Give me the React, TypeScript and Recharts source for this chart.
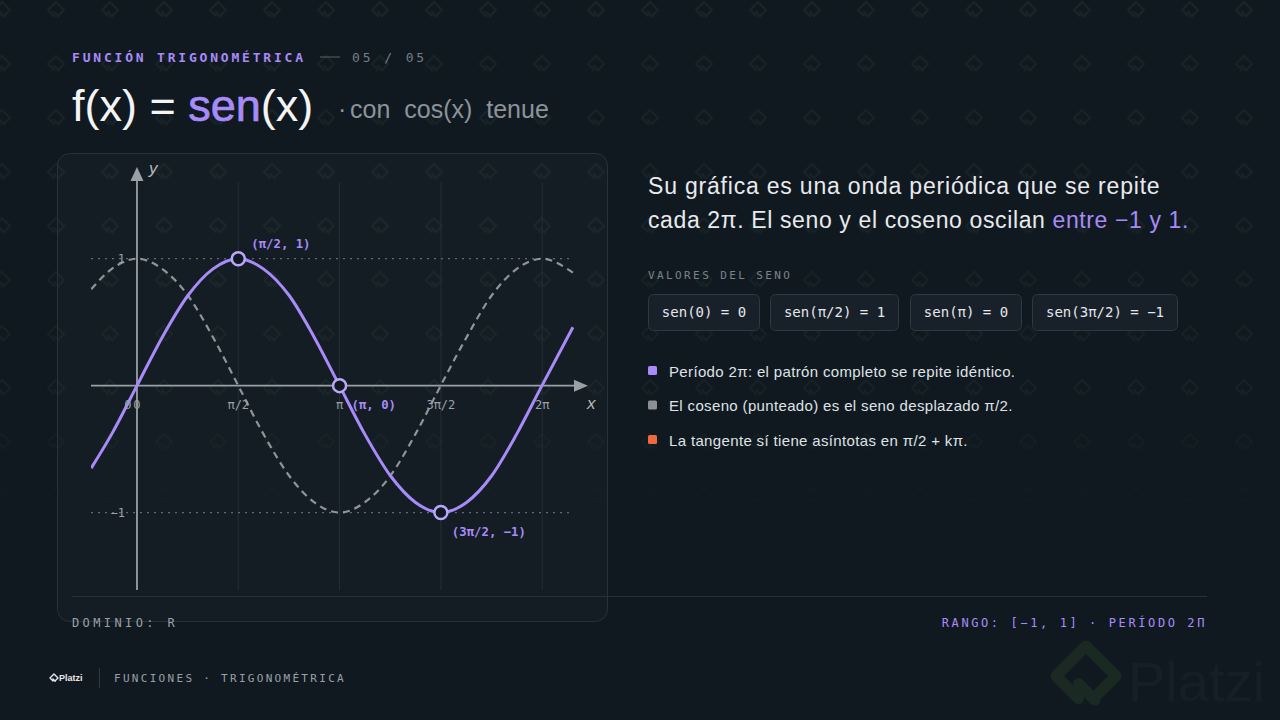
import React from 'react';
import { LineChart, Line, XAxis, YAxis, ReferenceLine, ReferenceDot } from 'recharts';

// x en radianes
const xValues = [-0.71, -0.39, 0, 0.39, 0.79, 1.18, 1.57, 1.96, 2.36, 2.75, 3.14, 3.53, 3.93, 4.32, 4.71, 5.11, 5.5, 5.89, 6.28, 6.76];
const senValues = [-0.65, -0.38, 0, 0.38, 0.71, 0.92, 1, 0.92, 0.71, 0.38, 0, -0.38, -0.71, -0.92, -1, -0.92, -0.71, -0.38, 0, 0.46];
const cosValues = [0.76, 0.92, 1, 0.92, 0.71, 0.38, 0, -0.38, -0.71, -0.92, -1, -0.92, -0.71, -0.38, 0, 0.38, 0.71, 0.92, 1, 0.89];

const xTicks = [0, 1.5708, 3.1416, 4.7124, 6.2832];
const xTickLabels = ['0', 'π/2', 'π', '3π/2', '2π'];
const yTicks = [1, -1];
const yTickLabels = ['1', '−1'];

const keyX = [1.5708, 3.1416, 4.7124];
const keyY = [1, 0, -1];
const keyLabels = ['(π/2, 1)', '(π, 0)', '(3π/2, −1)'];

const chipLabels = ['sen(0) = 0', 'sen(π/2) = 1', 'sen(π) = 0', 'sen(3π/2) = −1'];
const bulletLabels = [
  'Período 2π: el patrón completo se repite idéntico.',
  'El coseno (punteado) es el seno desplazado π/2.',
  'La tangente sí tiene asíntotas en π/2 + kπ.',
];

const PURPLE = '#a78bfa';
const BG = '#111920';
const MONO = '"DejaVu Sans Mono", monospace';
const SANS = '"Liberation Sans", Arial, sans-serif';

const data = xValues.map((x, i) => ({ x, sen: senValues[i], cos: cosValues[i] }));

const X_DOMAIN: [number, number] = [-0.713, 6.87];
const Y_DOMAIN: [number, number] = [-1.61, 1.62];

const labelOffsets = [
  { dx: 13, dy: -11 },
  { dx: 12, dy: 23 },
  { dx: 11, dy: 23 },
];

const chipX = [648, 770, 910, 1032];
const chipW = [111, 128, 111, 145];
const bulletColors = [PURPLE, '#8b9096', '#f0693e'];

const Icon = ({ x, y, s, stroke, w }: { x: number; y: number; s: number; stroke: string; w: number }) => (
  <path
    d={`M ${x} ${y - s} L ${x + s} ${y} L ${x + s * 0.25} ${y + s * 0.75} M ${x - s * 0.25} ${y + s * 0.75} L ${x - s} ${y} L ${x} ${y - s} M ${x - s * 0.25} ${y + s * 0.25} L ${x + s * 0.3} ${y + s * 0.8}`}
    fill="none"
    stroke={stroke}
    strokeWidth={w}
    strokeLinejoin="round"
    strokeLinecap="round"
  />
);

const Backdrop = () => (
  <svg width={1280} height={720} style={{ position: 'absolute', left: 0, top: 0 }}>
    <defs>
      <pattern id="bgp" width={54} height={54} patternUnits="userSpaceOnUse" x={-25} y={-17}>
        <Icon x={27} y={27} s={8} stroke="#172527" w={2.4} />
      </pattern>
      <linearGradient id="fade" x1="0" y1="0" x2="0" y2="1">
        <stop offset="0" stopColor="#fff" stopOpacity={1} />
        <stop offset="0.55" stopColor="#fff" stopOpacity={0.7} />
        <stop offset="0.72" stopColor="#fff" stopOpacity={0} />
      </linearGradient>
      <mask id="fm">
        <rect width={1280} height={720} fill="url(#fade)" />
      </mask>
    </defs>
    <rect width={1280} height={720} fill={BG} />
    <rect width={1280} height={720} fill="url(#bgp)" mask="url(#fm)" />

    {/* cabecera */}
    <text x={72} y={62} fontFamily={MONO} fontSize={13} letterSpacing={2.8} fill={PURPLE} fontWeight="bold">
      FUNCIÓN TRIGONOMÉTRICA
    </text>
    <line x1={320} x2={340} y1={57} y2={57} stroke="#59616a" strokeWidth={1} />
    <text x={352} y={62} fontFamily={MONO} fontSize={13} letterSpacing={2.9} fill="#757d86">
      05 / 05
    </text>
    <text x={72} y={121} fontFamily={SANS} fontSize={45} fill="#f3f4f6" style={{ whiteSpace: 'pre' }}>
      <tspan>f(x) = </tspan>
      <tspan fill={PURPLE} stroke={PURPLE} strokeWidth={0.7}>sen</tspan>
      <tspan>(x)</tspan>
    </text>
    <text x={338} y={118} fontFamily={SANS} fontSize={25} fill="#8b939b">
      ·
    </text>
    <text x={350} y={118} fontFamily={SANS} fontSize={25} fill="#8b939b" wordSpacing={7}>
      con cos(x) tenue
    </text>

    {/* panel */}
    <rect x={57.5} y={153.5} width={550} height={468} rx={12} fill="rgba(255,255,255,0.018)" stroke="#27313b" />
    <line x1={72} x2={1207} y1={596.5} y2={596.5} stroke="#27313b" />
    <text x={72} y={627} fontFamily={MONO} fontSize={12} letterSpacing={3.4} fill="#9aa0a6">
      DOMINIO: R
    </text>
    <text x={1207} y={627} textAnchor="end" fontFamily={MONO} fontSize={12} letterSpacing={2.6} fill={PURPLE}>
      RANGO: [−1, 1] · PERÍODO 2Π
    </text>

    {/* texto derecha */}
    <text x={648} y={194} fontFamily={SANS} fontSize={23} letterSpacing={0.8} fill="#e8eaed">
      Su gráfica es una onda periódica que se repite
    </text>
    <text x={648} y={228} fontFamily={SANS} fontSize={23} letterSpacing={0.62} fill="#e8eaed" style={{ whiteSpace: 'pre' }}>
      <tspan>cada 2π. El seno y el coseno oscilan </tspan>
      <tspan fill={PURPLE}>entre −1 y 1.</tspan>
    </text>
    <text x={648} y={279} fontFamily={MONO} fontSize={11} letterSpacing={2.4} fill="#7b838b">
      VALORES DEL SENO
    </text>
    {chipLabels.map((c, i) => (
      <g key={c}>
        <rect x={chipX[i] + 0.5} y={294.5} width={chipW[i]} height={36} rx={5} fill="#18212a" stroke="#2d3842" />
        <text x={chipX[i] + chipW[i] / 2 + 0.5} y={317} textAnchor="middle" fontFamily={MONO} fontSize={14} fill="#e5e7eb">
          {c}
        </text>
      </g>
    ))}
    {bulletLabels.map((b, i) => (
      <g key={b}>
        <rect x={648} y={366 + i * 34.5} width={9} height={9} rx={1.5} fill={bulletColors[i]} />
        <text x={669} y={376.5 + i * 34.5} fontFamily={SANS} fontSize={15} letterSpacing={0.35} fill="#dfe2e6">
          {b}
        </text>
      </g>
    ))}

    {/* pie */}
    <Icon x={54} y={678} s={4} stroke="#e5e7eb" w={1.4} />
    <text x={59} y={681} fontFamily={SANS} fontSize={9} fontWeight="bold" fill="#e5e7eb">
      Platzi
    </text>
    <line x1={99.5} x2={99.5} y1={668} y2={688} stroke="#2f3943" />
    <text x={114} y={682} fontFamily={MONO} fontSize={11} letterSpacing={2.3} fill="#9aa0a6">
      FUNCIONES · TRIGONOMÉTRICA
    </text>
    <Icon x={1086} y={676} s={30} stroke="#1a2a23" w={11} />
    <text x={1128} y={701} fontFamily={SANS} fontSize={56} fill="#161f27">
      Platzi
    </text>
  </svg>
);

const tickShape = (label: string) => (p: any) => (
  <text x={p.cx} y={p.cy + 23} textAnchor="middle" fontFamily={MONO} fontSize={12} fill="#9ca2a8">
    {label}
  </text>
);

const yTickShape = (label: string) => (p: any) => (
  <text x={p.cx - 12} y={p.cy + 4} textAnchor="end" fontFamily={MONO} fontSize={12} fill="#9ca2a8">
    {label}
  </text>
);

const keyShape = (label: string, i: number) => (p: any) => (
  <g>
    <circle cx={p.cx} cy={p.cy} r={6.5} fill={BG} stroke="#b9a7fb" strokeWidth={2.5} />
    <text
      x={p.cx + labelOffsets[i].dx}
      y={p.cy + labelOffsets[i].dy}
      fontFamily={MONO}
      fontSize={12.3}
      fontWeight="bold"
      fill={PURPLE}
    >
      {label}
    </text>
  </g>
);

const xArrow = (p: any) => (
  <g>
    <polygon points={`${p.cx - 6},${p.cy - 6} ${p.cx + 8},${p.cy} ${p.cx - 6},${p.cy + 6}`} fill="#9aa0a6" />
    <text x={p.cx + 7} y={p.cy + 23} fontFamily={SANS} fontStyle="italic" fontSize={17} fill="#b3b8bd">
      x
    </text>
  </g>
);

const yArrow = (p: any) => (
  <g>
    <polygon points={`${p.cx - 6.5},${p.cy + 1} ${p.cx},${p.cy - 13} ${p.cx + 6.5},${p.cy + 1}`} fill="#9aa0a6" />
    <text x={p.cx + 12} y={p.cy - 6} fontFamily={SANS} fontStyle="italic" fontSize={17} fill="#b3b8bd">
      y
    </text>
  </g>
);

const SineChart = () => (
  <LineChart width={550} height={468} data={data} margin={{ top: 27, right: 27, bottom: 31, left: 34 }}>
    <XAxis dataKey="x" type="number" domain={X_DOMAIN} allowDataOverflow hide />
    <YAxis type="number" domain={Y_DOMAIN} allowDataOverflow hide />
    {xTicks.slice(1).map((t) => (
      <ReferenceLine key={`g${t}`} segment={[{ x: t, y: -1.61 }, { x: t, y: 1.6 }]} stroke="#242e38" strokeWidth={1} />
    ))}
    {yTicks.map((t) => (
      <ReferenceLine
        key={`h${t}`}
        segment={[{ x: -0.713, y: t }, { x: 6.75, y: t }]}
        stroke="#5f6a74"
        strokeWidth={1.2}
        strokeDasharray="2 5"
      />
    ))}
    <ReferenceLine x={0} stroke="#9aa0a6" strokeWidth={1.8} />
    <ReferenceLine y={0} stroke="#9aa0a6" strokeWidth={1.8} />
    <ReferenceDot x={X_DOMAIN[1]} y={0} r={0} ifOverflow="visible" shape={xArrow} />
    <ReferenceDot x={0} y={Y_DOMAIN[1]} r={0} ifOverflow="visible" shape={yArrow} />
    <Line
      dataKey="cos"
      type="monotone"
      stroke="#8e949a"
      strokeWidth={2.2}
      strokeDasharray="7 5"
      dot={false}
      activeDot={false}
      isAnimationActive={false}
    />
    <Line dataKey="sen" type="monotone" stroke={PURPLE} strokeWidth={3} dot={false} activeDot={false} isAnimationActive={false} />
    {xTicks.map((t, i) => (
      <ReferenceDot key={`t${t}`} x={t} y={0} r={0} ifOverflow="visible" shape={tickShape(xTickLabels[i])} />
    ))}
    <ReferenceDot x={0} y={0} r={0} ifOverflow="visible" shape={(p: any) => tickShape('0')({ ...p, cx: p.cx - 9 })} />
    {yTicks.map((t, i) => (
      <ReferenceDot key={`y${t}`} x={0} y={t} r={0} ifOverflow="visible" shape={yTickShape(yTickLabels[i])} />
    ))}
    {keyX.map((kx, i) => (
      <ReferenceDot key={`k${kx}`} x={kx} y={keyY[i]} r={6} ifOverflow="visible" shape={keyShape(keyLabels[i], i)} />
    ))}
  </LineChart>
);

export default function App() {
  return (
    <div style={{ position: 'absolute', left: 0, top: 0, width: 1280, height: 720, overflow: 'hidden', background: BG }}>
      <Backdrop />
      <div style={{ position: 'absolute', left: 57, top: 153 }}>
        <SineChart />
      </div>
    </div>
  );
}
